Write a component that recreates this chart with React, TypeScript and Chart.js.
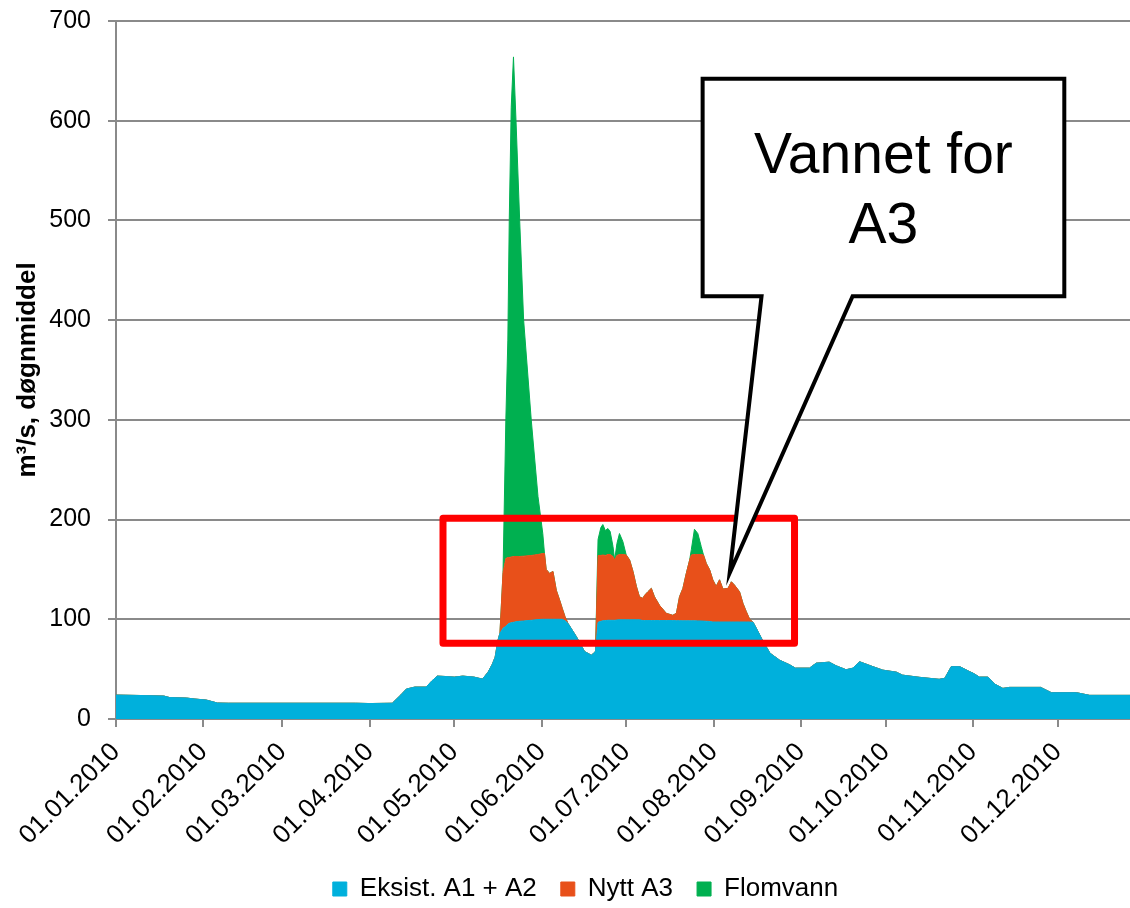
import React, { useEffect, useRef } from "react";
import { Chart, registerables } from "chart.js";

Chart.register(...registerables);

const FONT = '"Liberation Sans", Arial, Helvetica, sans-serif';
const GRID = "#8a8a8a";

// x axis: day of year 2010 (0 = 01.01.2010)
const monthStarts = [0, 31, 59, 90, 120, 151, 181, 212, 243, 273, 304, 334];
const monthLabels = [
  "01.01.2010", "01.02.2010", "01.03.2010", "01.04.2010", "01.05.2010", "01.06.2010",
  "01.07.2010", "01.08.2010", "01.09.2010", "01.10.2010", "01.11.2010", "01.12.2010",
];
const yTitle = "m³/s, døgnmiddel";
const seriesNames = ["Eksist. A1 + A2", "Nytt A3", "Flomvann"];
const seriesColors = ["#00B0DC", "#E8501A", "#00B050"];

// Eksist. A1 + A2 (m3/s)
const eksistDays = [
  0, 10, 17, 19, 25, 28, 32, 36, 40, 85, 90, 98, 101, 103, 106, 110, 112, 114, 117, 120,
  123, 127, 130, 132, 133.5, 134.5, 135.5, 136.2, 137.3, 138.3, 139, 139.5, 140.2, 141, 141.9, 143.2,
  144.6, 147.3, 149.7, 151.4, 152, 152.6, 153.8, 155, 156.2, 157.4, 158.3, 159.3, 160.3, 163.3,
  166.2, 168.6, 169.5, 170.1, 171, 172, 172.7, 173.6, 174.5, 175.3, 176.3, 176.9, 177.7, 178.6,
  179.8, 181, 182.2, 183.4, 184.6, 185.7, 186.9, 187.5, 188.7, 189.9, 191, 192.8, 195.2, 197.5,
  198.8, 199.9, 201.1, 202.3, 203.5, 204.1, 205.2, 206.4, 207.6, 208.4, 209.4, 210.6, 211.7, 212.9,
  214.1, 215.3, 217.1, 218.3, 219.4, 221.2, 222.4, 223.6, 224.8, 226, 227.7, 229.5, 232, 235.4,
  239, 241, 246, 248.4, 253, 255.5, 259, 261.4, 263.8, 268.5, 272, 276.8, 279, 285, 292, 294,
  296.3, 299.3, 302.8, 304, 306.3, 309.3, 311.7, 314.6, 317, 328, 331.8, 340.7, 345.4, 364,
];
const eksist = [
  24, 23.5, 23, 21.5, 21, 20, 19, 16, 15.8, 15.8, 15.5, 15.8, 24, 30, 32, 32, 38, 43, 42.6, 42,
  43, 42, 40, 47, 55, 62, 79, 86, 91, 93, 95, 96, 96.5, 97, 97.5, 98,
  98.3, 99, 99.7, 100, 100, 100, 100, 100, 100, 100, 100, 98.5, 96, 82.6,
  67.7, 64, 66, 68, 97, 98, 98.5, 98.7, 99, 99, 99, 99, 99.3, 99.5,
  99.5, 99.5, 99.5, 99.5, 99.5, 99.5, 98.7, 98.7, 98.7, 98.7, 98.7, 98.7, 98.7, 98.7,
  98.6, 98.6, 98.5, 98.5, 98.5, 98.5, 98.5, 98.4, 98.3, 98.2, 98, 97.8, 97.3, 97.3,
  97.3, 97.3, 97.3, 97.3, 97.3, 97.3, 97.3, 97.3, 97.3, 97, 88, 78, 66, 59,
  54.3, 51, 51, 56, 57, 53.3, 49.4, 51, 57.4, 52.5, 49, 47, 44, 41.8, 39.8, 40.8,
  52.5, 52.5, 47.5, 46, 42, 42, 35, 30.7, 31.7, 31.7, 26.4, 26.4, 23.7, 23.7,
];

// Nytt A3 (m3/s, on top of Eksist.)
const a3Days = [
  137.3, 138.3, 139, 139.5, 140.2, 141, 141.9, 143.2, 144.6, 147.3, 149.7, 151.4, 152, 152.6,
  153.8, 155, 156.2, 157.4, 158.3, 159.3,
  171, 172, 172.7, 173.6, 174.5, 175.3, 176.3, 176.9, 177.7, 178.6, 179.8, 181, 182.2, 183.4,
  184.6, 185.7, 186.9, 187.5, 188.7, 189.9, 191, 192.8, 195.2, 197.5, 198.8, 199.9, 201.1, 202.3,
  203.5, 204.1, 205.2, 206.4, 207.6, 208.4, 209.4, 210.6, 211.7, 212.9, 214.1, 215.3, 217.1, 218.3,
  219.4, 221.2, 222.4, 223.6, 224.8,
];
const nytt = [
  56, 68, 67, 66, 66, 66, 65.5, 65, 65, 65, 65.3, 66, 66, 50,
  46, 48, 29, 19, 11, 4,
  67, 66, 66, 65.3, 66, 66, 64, 60.5, 64.7, 65.5, 65.5, 65, 60, 48.5,
  33.5, 23, 22.3, 25.3, 29, 32.3, 24, 15.3, 7.3, 5.3, 7.4, 24, 32.5, 47.5,
  61, 66, 66.5, 66.6, 66.7, 66.3, 58, 51.8, 42.3, 35.7, 42.3, 33, 33.7, 40.3,
  37, 30.3, 18.7, 10.3, 2.7,
];

// Flomvann (m3/s, on top of Nytt A3)
const flomDays = [
  138.3, 139, 139.5, 140.2, 141, 141.9, 143.2, 144.6, 147.3, 149.7, 151.4,
  171, 172, 172.7, 173.6, 174.5, 175.3, 176.3, 177.7, 178.6, 179.8,
  204.1, 205.2, 206.4, 207.6,
];
const flom = [
  140, 218, 338, 451, 501, 437, 337, 237, 136, 58, 20,
  16, 28, 30.5, 25, 26, 23, 10, 12, 21, 13,
  5.5, 25.3, 21, 8,
];

// annotations, in axis units (day, m3/s)
const highlight = { fromDay: 116, toDay: 240.7, low: 76, high: 201.3 };
const callout = {
  fromDay: 208.1, toDay: 336.4, low: 424, high: 642,
  baseFromDay: 229, baseToDay: 261.3, tipDay: 217.7, tipValue: 146.4,
  lines: ["Vannet for", "A3"],
};

function onGrid(days: number[], values: number[]) {
  const m = new Map<number, number>();
  days.forEach((d, i) => m.set(d, values[i]));
  return eksistDays.map((d) => ({ x: d, y: m.has(d) ? (m.get(d) as number) : 0 }));
}

const annotationPlugin = {
  id: "annotations",
  afterDatasetsDraw(chart: any) {
    const { ctx } = chart;
    const xs = chart.scales.x;
    const ys = chart.scales.y;
    const px = (d: number) => xs.getPixelForValue(d);
    const py = (v: number) => ys.getPixelForValue(v);
    ctx.save();
    // red box
    ctx.strokeStyle = "#FF0000";
    ctx.lineWidth = 7;
    ctx.lineJoin = "round";
    const x0 = px(highlight.fromDay), x1 = px(highlight.toDay);
    const y0 = py(highlight.high), y1 = py(highlight.low);
    ctx.strokeRect(x0, y0, x1 - x0, y1 - y0);
    // callout
    const cl = px(callout.fromDay), cr = px(callout.toDay);
    const ct = py(callout.high), cb = py(callout.low);
    ctx.beginPath();
    ctx.moveTo(cl, ct);
    ctx.lineTo(cr, ct);
    ctx.lineTo(cr, cb);
    ctx.lineTo(px(callout.baseToDay), cb);
    ctx.lineTo(px(callout.tipDay), py(callout.tipValue));
    ctx.lineTo(px(callout.baseFromDay), cb);
    ctx.lineTo(cl, cb);
    ctx.closePath();
    ctx.fillStyle = "#FFFFFF";
    ctx.fill();
    ctx.lineJoin = "miter";
    ctx.lineWidth = 4;
    ctx.strokeStyle = "#000000";
    ctx.stroke();
    ctx.fillStyle = "#000000";
    ctx.font = `57px ${FONT}`;
    ctx.textAlign = "center";
    ctx.textBaseline = "alphabetic";
    const cx = (cl + cr) / 2;
    callout.lines.forEach((t, i) => ctx.fillText(t, cx, ct + 94.6 + i * 70));
    ctx.restore();
  },
};

export default function App() {
  const ref = useRef<HTMLCanvasElement | null>(null);
  useEffect(() => {
    document.body.style.margin = "0";
    const canvas = ref.current;
    if (!canvas) return;
    const mk = (i: number, data: any[], fill: any) => ({
      label: seriesNames[i],
      data,
      backgroundColor: seriesColors[i],
      borderColor: seriesColors[i],
      borderWidth: 1,
      fill,
      pointRadius: 0,
      tension: 0,
    });
    const chart = new Chart(canvas, {
      type: "line",
      data: {
        datasets: [
          mk(0, eksistDays.map((d, i) => ({ x: d, y: eksist[i] })), "origin"),
          mk(1, onGrid(a3Days, nytt), "-1"),
          mk(2, onGrid(flomDays, flom), "-1"),
        ],
      },
      options: {
        responsive: false,
        animation: false,
        devicePixelRatio: 1,
        events: [],
        layout: { padding: { top: 21, left: 0, right: 0, bottom: 0 } },
        plugins: {
          legend: {
            position: "bottom",
            labels: {
              boxWidth: 14,
              boxHeight: 14,
              padding: 24,
              color: "#000",
              font: { family: FONT, size: 26 },
            },
          },
          tooltip: { enabled: false },
        },
        scales: {
          x: {
            type: "linear",
            min: 0,
            max: 374.25,
            afterBuildTicks: (s: any) => {
              s.ticks = monthStarts.map((v) => ({ value: v }));
            },
            afterFit: (s: any) => {
              s.height = 133;
            },
            ticks: {
              autoSkip: false,
              maxRotation: 45,
              minRotation: 45,
              color: "#000",
              padding: 10,
              font: { family: FONT, size: 26 },
              callback: (v: any) => {
                const i = monthStarts.indexOf(Number(v));
                return i >= 0 ? monthLabels[i] : "";
              },
            },
            grid: { drawOnChartArea: false, drawTicks: true, tickLength: 8, color: GRID, lineWidth: 2 },
            border: { color: GRID, width: 2 },
          },
          y: {
            type: "linear",
            stacked: true,
            min: 0,
            max: 700,
            afterFit: (s: any) => {
              s.width = 116;
              s.paddingTop = 0;
              s.paddingBottom = 0;
            },
            ticks: { stepSize: 100, color: "#000", padding: 17, font: { family: FONT, size: 25 } },
            grid: { color: GRID, lineWidth: 2, tickLength: 8 },
            border: { color: GRID, width: 2 },
            title: {
              display: true,
              text: yTitle,
              color: "#000",
              font: { family: FONT, size: 26, weight: "bold" },
              padding: { top: 12, bottom: 0 },
            },
          },
        },
      } as any,
      plugins: [annotationPlugin],
    });
    return () => chart.destroy();
  }, []);
  return (
    <div style={{ width: 1130, height: 908, overflow: "hidden", position: "relative" }}>
      <canvas ref={ref} width={1171} height={912} style={{ width: 1171, height: 912, display: "block" }} />
    </div>
  );
}
